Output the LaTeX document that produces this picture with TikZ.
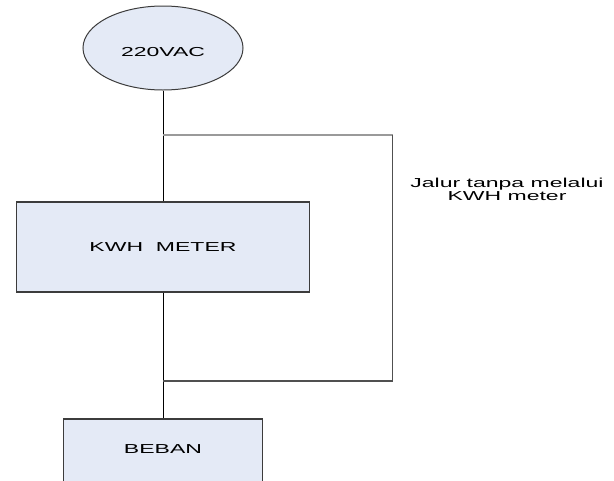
\documentclass[tikz,border=0pt]{standalone}
\usepackage{fontspec}
\setmainfont{Liberation Sans}
\usetikzlibrary{shapes.geometric}

\definecolor{boxfill}{HTML}{E4EAF6}
\definecolor{boxline}{HTML}{3C3C3C}
\definecolor{bypasslight}{HTML}{9A9A9A}
\definecolor{bypassdark}{HTML}{505050}

% labels are set wide, stretched horizontally
\newcommand{\stretchtxt}[1]{\scalebox{1.77}[1]{#1}}

\begin{document}
\begin{tikzpicture}[x=1pt, y=-1pt,
  every node/.style={font=\fontsize{13}{13}\selectfont, inner sep=0pt},
  block/.style={rectangle, draw=boxline, line width=1.1pt, fill=boxfill},
  source/.style={ellipse, draw=boxline, line width=1pt, fill=boxfill},
  wire/.style={draw=black, line width=1pt},
  bypasstop/.style={draw=bypasslight, line width=1.2pt},
  bypassside/.style={draw=bypassdark, line width=1.2pt}]

\useasboundingbox (0,0) rectangle (614,480);
\clip (0,0) rectangle (614,480);

% supply, meter and load (the load box runs past the lower edge)
\node[source, minimum width=160pt, minimum height=84pt,
      text height=17.3pt, text depth=0pt] (src) at (163,48) {\stretchtxt{220VAC}};
\node[block, minimum width=293pt, minimum height=90pt] (kwh) at (163,247) {\stretchtxt{KWH\ \ METER}};
\node[block, minimum width=199pt, minimum height=80pt,
      text height=9.3pt, text depth=20pt] (beban) at (163,459) {\stretchtxt{BEBAN}};

% main feed through the meter
\draw[wire] (src.south) -- (kwh.north);
\draw[wire] (kwh.south) -- (beban.north);

% bypass around the meter
\coordinate (tapT) at (163,135);
\coordinate (tapB) at (163,381);
\coordinate (cornerT) at (392.5,135);
\coordinate (cornerB) at (392.5,381);
\draw[bypasstop] (tapT) -- (cornerT);
\draw[bypassside] (cornerT) -- (cornerB) -- (tapB);

\node (bypasslabel) at (507,191)
  {\stretchtxt{\begin{tabular}{@{}c@{}}Jalur tanpa melalui\\KWH meter\end{tabular}}};

\end{tikzpicture}
\end{document}
